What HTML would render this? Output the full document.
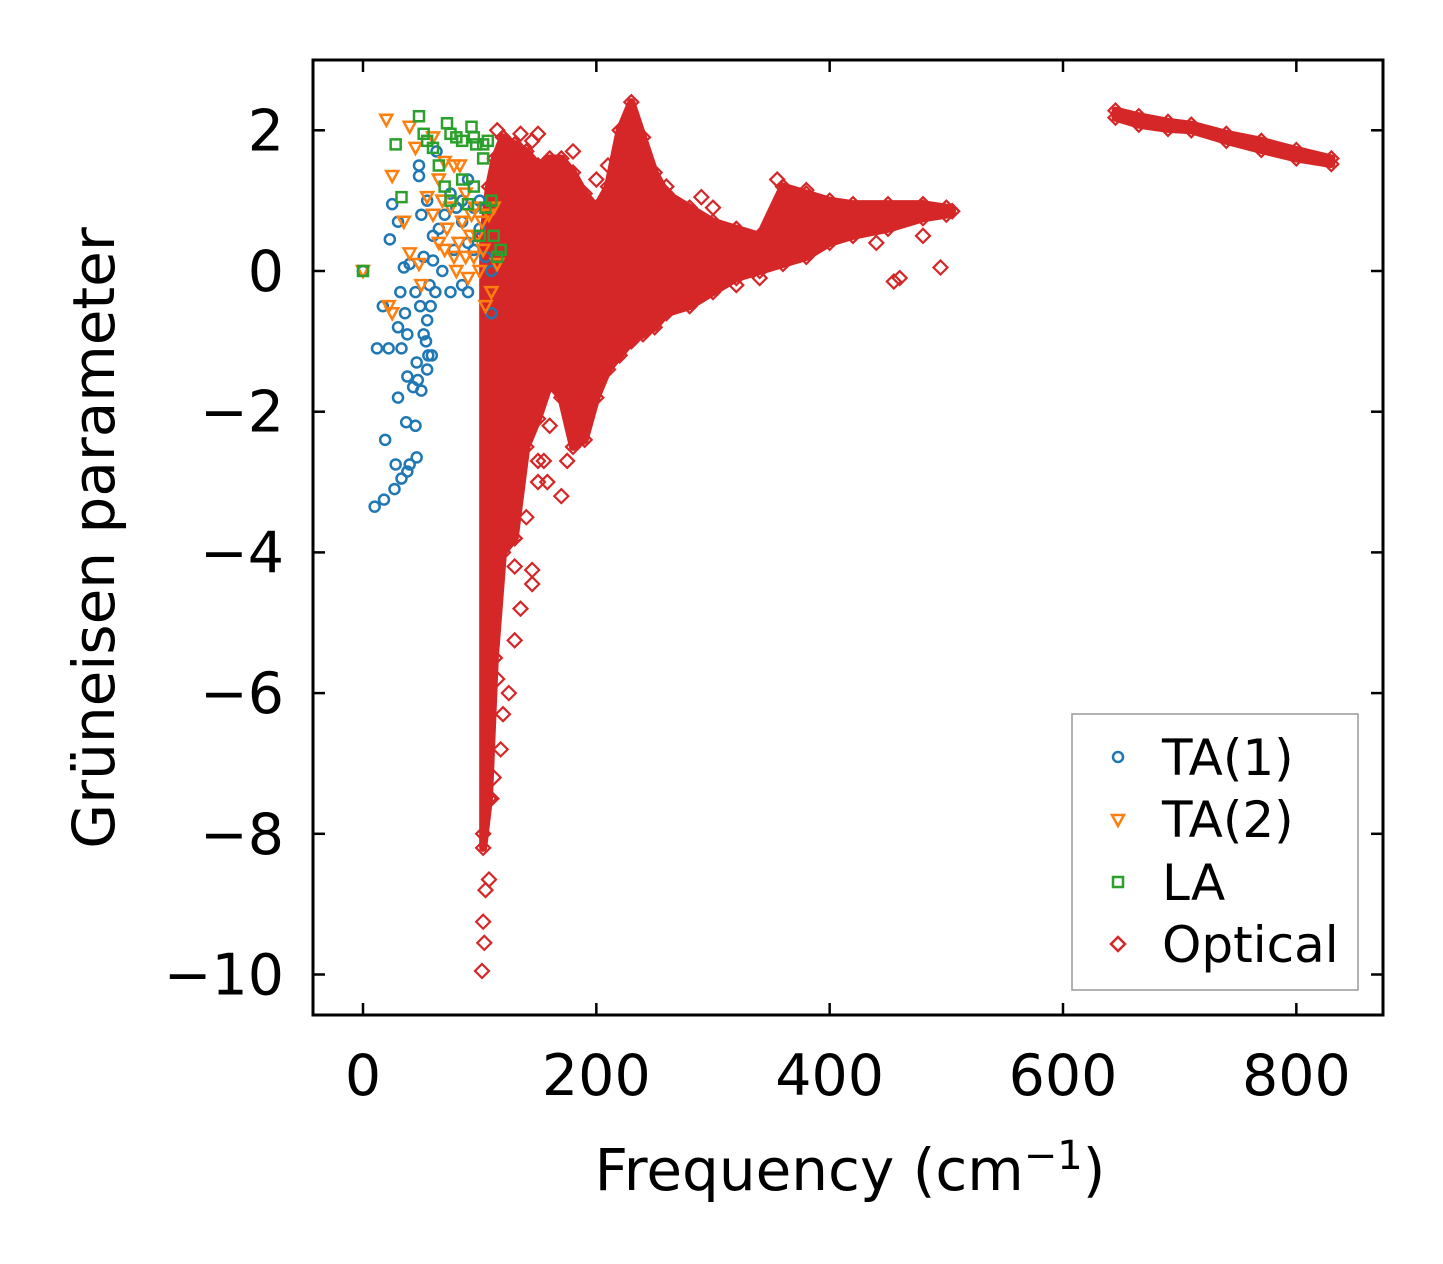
<!DOCTYPE html>
<html><head><meta charset="utf-8">
<style>
html,body{margin:0;padding:0;background:#fff;}
svg{display:block;font-family:"DejaVu Sans","Liberation Sans",sans-serif;}
</style></head>
<body>
<svg id="chart" width="1443" height="1264" viewBox="0 0 1443 1264" xmlns="http://www.w3.org/2000/svg">
<rect x="0" y="0" width="1443" height="1264" fill="#fff"/>
<g id="marks"></g>
<rect x="313" y="60" width="1070" height="955" fill="none" stroke="#000" stroke-width="3"/>
<g id="ticks"></g>
<text x="850" y="1190" font-size="58" text-anchor="middle">Frequency (cm<tspan dy="-21" font-size="40">−1</tspan><tspan dy="21">)</tspan></text>
<text transform="translate(114,538) rotate(-90)" font-size="58" text-anchor="middle">Grüneisen parameter</text>
<g>
<rect x="1072" y="714" width="286" height="276" fill="#fff" stroke="#999" stroke-width="1.5"/>
<circle cx="1118" cy="757" r="5" fill="none" stroke="#1f77b4" stroke-width="2.5"/>
<text x="1162" y="775" font-size="50">TA(1)</text>
<path d="M1112,815 L1124,815 L1118,826 Z" fill="none" stroke="#ff7f0e" stroke-width="2.5"/>
<text x="1162" y="837" font-size="50">TA(2)</text>
<rect x="1113" y="877" width="10" height="10" fill="none" stroke="#2ca02c" stroke-width="2.5"/>
<text x="1162" y="900" font-size="50">LA</text>
<path d="M1118,937 L1125,944 L1118,951 L1111,944 Z" fill="none" stroke="#d62728" stroke-width="2.5"/>
<text x="1162" y="962" font-size="50">Optical</text>
</g>
</svg>
<script>
const xTicks=[0,200,400,600,800];
const yTicks=[2,0,-2,-4,-6,-8,-10];
const ta1=[[0,0],[10,-3.35],[18,-3.25],[27,-3.1],[33,-2.95],[38,-2.85],[40,-2.75],[46,-2.65],[28,-2.75],[19,-2.4],[37,-2.15],[45,-2.2],[30,-1.8],[38,-1.5],[43,-1.65],[50,-1.7],[12,-1.1],[22,-1.1],[33,-1.1],[38,-0.9],[46,-1.3],[55,-1.4],[54,-1.0],[59,-1.2],[17,-0.5],[30,-0.8],[36,-0.6],[45,-0.3],[49,-0.5],[55,-0.7],[58,-0.5],[62,-0.3],[32,-0.3],[35,0.05],[40,0.1],[52,0.2],[60,0.15],[68,0.0],[75,-0.3],[85,-0.2],[90,-0.3],[23,0.45],[25,0.95],[30,0.7],[50,0.8],[55,1.0],[60,0.5],[65,0.6],[70,0.8],[75,1.1],[80,0.9],[85,0.7],[90,0.4],[95,0.9],[100,0.6],[105,0.2],[110,0.0],[110,-0.6],[48,1.5],[48,1.35],[63,1.7],[90,1.3],[85,1.0],[95,0.3],[78,0.3],[100,1.0],[52,-0.9],[56,-1.2],[57,-0.2],[47,-1.55]];
const ta2=[[0,0],[20,2.15],[40,2.05],[45,1.75],[25,1.35],[35,0.7],[40,0.25],[48,0.1],[55,1.05],[60,1.9],[65,1.3],[70,1.55],[78,1.5],[83,1.5],[88,1.1],[93,0.8],[98,0.5],[103,0.3],[108,0.8],[112,0.9],[105,-0.5],[110,-0.3],[22,-0.5],[25,-0.6],[70,0.3],[80,0.0],[90,-0.1],[95,0.2],[60,0.8],[75,0.9],[85,0.7],[100,0.0],[115,0.1],[65,0.4],[50,-0.2],[72,0.6],[82,0.4],[92,0.5],[102,0.7],[78,0.2],[88,0.2],[68,1.0],[96,0.9]];
const la=[[0,0],[28,1.8],[33,1.05],[48,2.2],[52,1.95],[55,1.85],[60,1.75],[72,2.1],[75,1.95],[80,1.9],[85,1.85],[93,2.05],[97,1.8],[103,1.8],[103,1.6],[107,1.85],[95,1.9],[65,1.5],[70,1.2],[85,1.3],[95,1.2],[105,0.9],[112,0.5],[115,0.2],[118,0.3],[110,1.0],[90,0.95],[100,0.5],[75,1.0]];
const optFreq=[103,108,113,120,130,140,150,160,170,180,190,200,210,220,230,240,250,260,280,300,320,340,360,380,400,420,450,480,500,505];
const optHigh=[0.5,1.2,1.6,1.9,1.8,1.7,1.5,1.6,1.6,1.4,1.1,0.9,1.2,2.0,2.4,1.9,1.4,1.1,0.9,0.7,0.6,0.5,1.2,1.1,1.0,0.95,0.95,0.95,0.9,0.85];
const optLow=[-8.2,-7.5,-5.5,-4.0,-3.8,-2.5,-2.1,-1.6,-1.8,-2.5,-2.4,-1.8,-1.4,-1.2,-1.0,-0.9,-0.8,-0.6,-0.5,-0.3,-0.1,0.0,0.1,0.2,0.4,0.5,0.6,0.75,0.8,0.85];
const bandFreq=[645,665,690,710,740,770,800,830];
const bandHigh=[2.28,2.2,2.12,2.08,1.95,1.85,1.72,1.6];
const bandLow=[2.18,2.08,2.02,2.0,1.85,1.72,1.6,1.52];
const optScatter=[[102,-9.95],[103,-9.25],[104,-9.55],[105,-8.8],[108,-8.65],[103,-8.0],[110,-7.5],[112,-7.2],[120,-6.3],[125,-6.0],[130,-5.25],[135,-4.8],[145,-4.45],[145,-4.25],[150,-3.0],[158,-3.0],[170,-3.2],[150,-2.7],[155,-2.7],[160,-2.2],[175,-2.7],[130,-4.2],[130,-3.8],[140,-3.5],[455,-0.15],[460,-0.1],[495,0.05],[480,0.5],[440,0.4],[420,0.5],[280,-0.3],[320,-0.2],[340,-0.1],[290,1.05],[300,0.9],[355,1.3],[380,1.15],[260,1.2],[180,1.7],[210,1.5],[150,1.95],[135,1.95],[115,2.0],[145,1.85],[200,1.3],[480,0.9],[118,-6.8],[115,-5.8],[112,-4.8],[125,-3.2]];

const X=v=>363+v*1.16667;
const Y=v=>271-v*70.35;
const NS="http://www.w3.org/2000/svg";
const marks=document.getElementById('marks');
const ticks=document.getElementById('ticks');
function mk(tag,attrs,parent){const e=document.createElementNS(NS,tag);for(const k in attrs)e.setAttribute(k,attrs[k]);parent.appendChild(e);return e;}

let pts=[];
optFreq.forEach((f,i)=>pts.push(X(f)+','+Y(optHigh[i])));
for(let i=optFreq.length-1;i>=0;i--)pts.push(X(optFreq[i])+','+Y(optLow[i]));
const env=mk('polygon',{points:pts.join(' '),fill:'#d62728',stroke:'#d62728','stroke-width':8,'stroke-linejoin':'round'},marks);


let bp=[];
bandFreq.forEach((f,i)=>bp.push(X(f)+','+Y(bandHigh[i])));
for(let i=bandFreq.length-1;i>=0;i--)bp.push(X(bandFreq[i])+','+Y(bandLow[i]));
const band=mk('polygon',{points:bp.join(' '),fill:'#d62728',stroke:'#d62728','stroke-width':8,'stroke-linejoin':'round'},marks);



function diamond(f,g){const x=X(f),y=Y(g);
const d=mk('path',{d:`M${x},${y-7} L${x+7},${y} L${x},${y+7} L${x-7},${y} Z`,fill:'none',stroke:'#d62728','stroke-width':2.2},marks);

}
optFreq.forEach((f,i)=>{diamond(f,optHigh[i]);diamond(f,optLow[i]);});
bandFreq.forEach((f,i)=>{diamond(f,bandHigh[i]);diamond(f,bandLow[i]);});
optScatter.forEach(p=>diamond(p[0],p[1]));

ta1.forEach(p=>{const c=mk('circle',{cx:X(p[0]),cy:Y(p[1]),r:5,fill:'none',stroke:'#1f77b4','stroke-width':2.5},marks);

});
ta2.forEach(p=>{const x=X(p[0]),y=Y(p[1]);
const t=mk('path',{d:`M${x-6},${y-5} L${x+6},${y-5} L${x},${y+6} Z`,fill:'none',stroke:'#ff7f0e','stroke-width':2.5},marks);

});
la.forEach(p=>{const s=mk('rect',{x:X(p[0])-5,y:Y(p[1])-5,width:10,height:10,fill:'none',stroke:'#2ca02c','stroke-width':2.5},marks);

});

xTicks.forEach(v=>{const x=X(v);
mk('line',{x1:x,x2:x,y1:1015,y2:1003,stroke:'#000','stroke-width':2.5},ticks);
mk('line',{x1:x,x2:x,y1:60,y2:72,stroke:'#000','stroke-width':2.5},ticks);
const t=mk('text',{x:x,y:1095,'font-size':57,'text-anchor':'middle'},ticks);
t.textContent=String(v);

});
yTicks.forEach(v=>{const y=Y(v);
mk('line',{x1:313,x2:325,y1:y,y2:y,stroke:'#000','stroke-width':2.5},ticks);
mk('line',{x1:1383,x2:1371,y1:y,y2:y,stroke:'#000','stroke-width':2.5},ticks);
const t=mk('text',{x:284,y:y+20,'font-size':57,'text-anchor':'end'},ticks);
t.textContent=v<0?'−'+Math.abs(v):String(v);

});
</script>
</body></html>
